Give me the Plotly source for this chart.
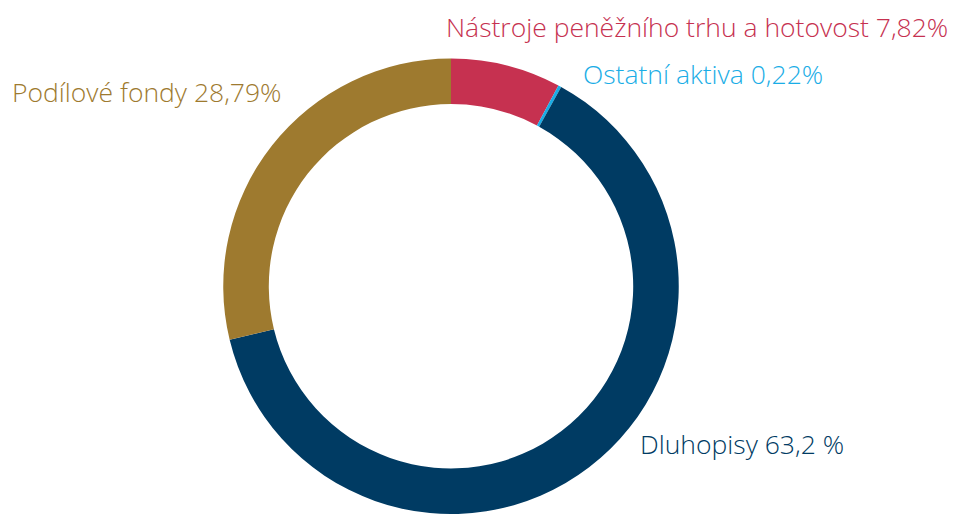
import plotly.graph_objects as go

# ---------- Data ----------
labels = ["Nástroje peněžního trhu a hotovost", "Ostatní aktiva", "Dluhopisy", "Podílové fondy"]
values = [7.82, 0.22, 63.2, 28.79]
value_text = ["7,82%", "0,22%", "63,2 %", "28,79%"]
colors = ["#C63150", "#1AADE6", "#003B63", "#9E7A2F"]

# page has an 8px body margin, so the figure is a bit smaller than the window
W, H = 952, 506

# label placement (paper coords) and anchors
label_pos = [(0.990, 0.962, "right"), (0.6019, 0.8696, "left"),
             (0.6618, 0.1383, "left"), (0.0021, 0.834, "left")]

cx, r = 443, 229.5
fig = go.Figure(go.Pie(
    labels=labels,
    values=values,
    hole=0.8,
    sort=False,
    direction="clockwise",
    rotation=0,
    marker=dict(colors=colors, line=dict(width=0)),
    textinfo="none",
    hoverinfo="label+percent",
    domain=dict(x=[(cx - r) / W, (cx + r) / W], y=[0, 1 - (280 - r) / H]),
))

for lab, txt, col, (x, y, anchor) in zip(labels, value_text, colors, label_pos):
    fig.add_annotation(
        x=x, y=y, xref="paper", yref="paper",
        text=f"{lab} {txt}", showarrow=False,
        xanchor=anchor, yanchor="middle",
        font=dict(family="Open Sans", size=26.5, color=col, weight=300),
    )

fig.update_layout(
    width=W, height=H,
    margin=dict(l=0, r=0, t=0, b=0),
    showlegend=False,
    paper_bgcolor="white",
    plot_bgcolor="white",
)

fig.write_html("out.html")
